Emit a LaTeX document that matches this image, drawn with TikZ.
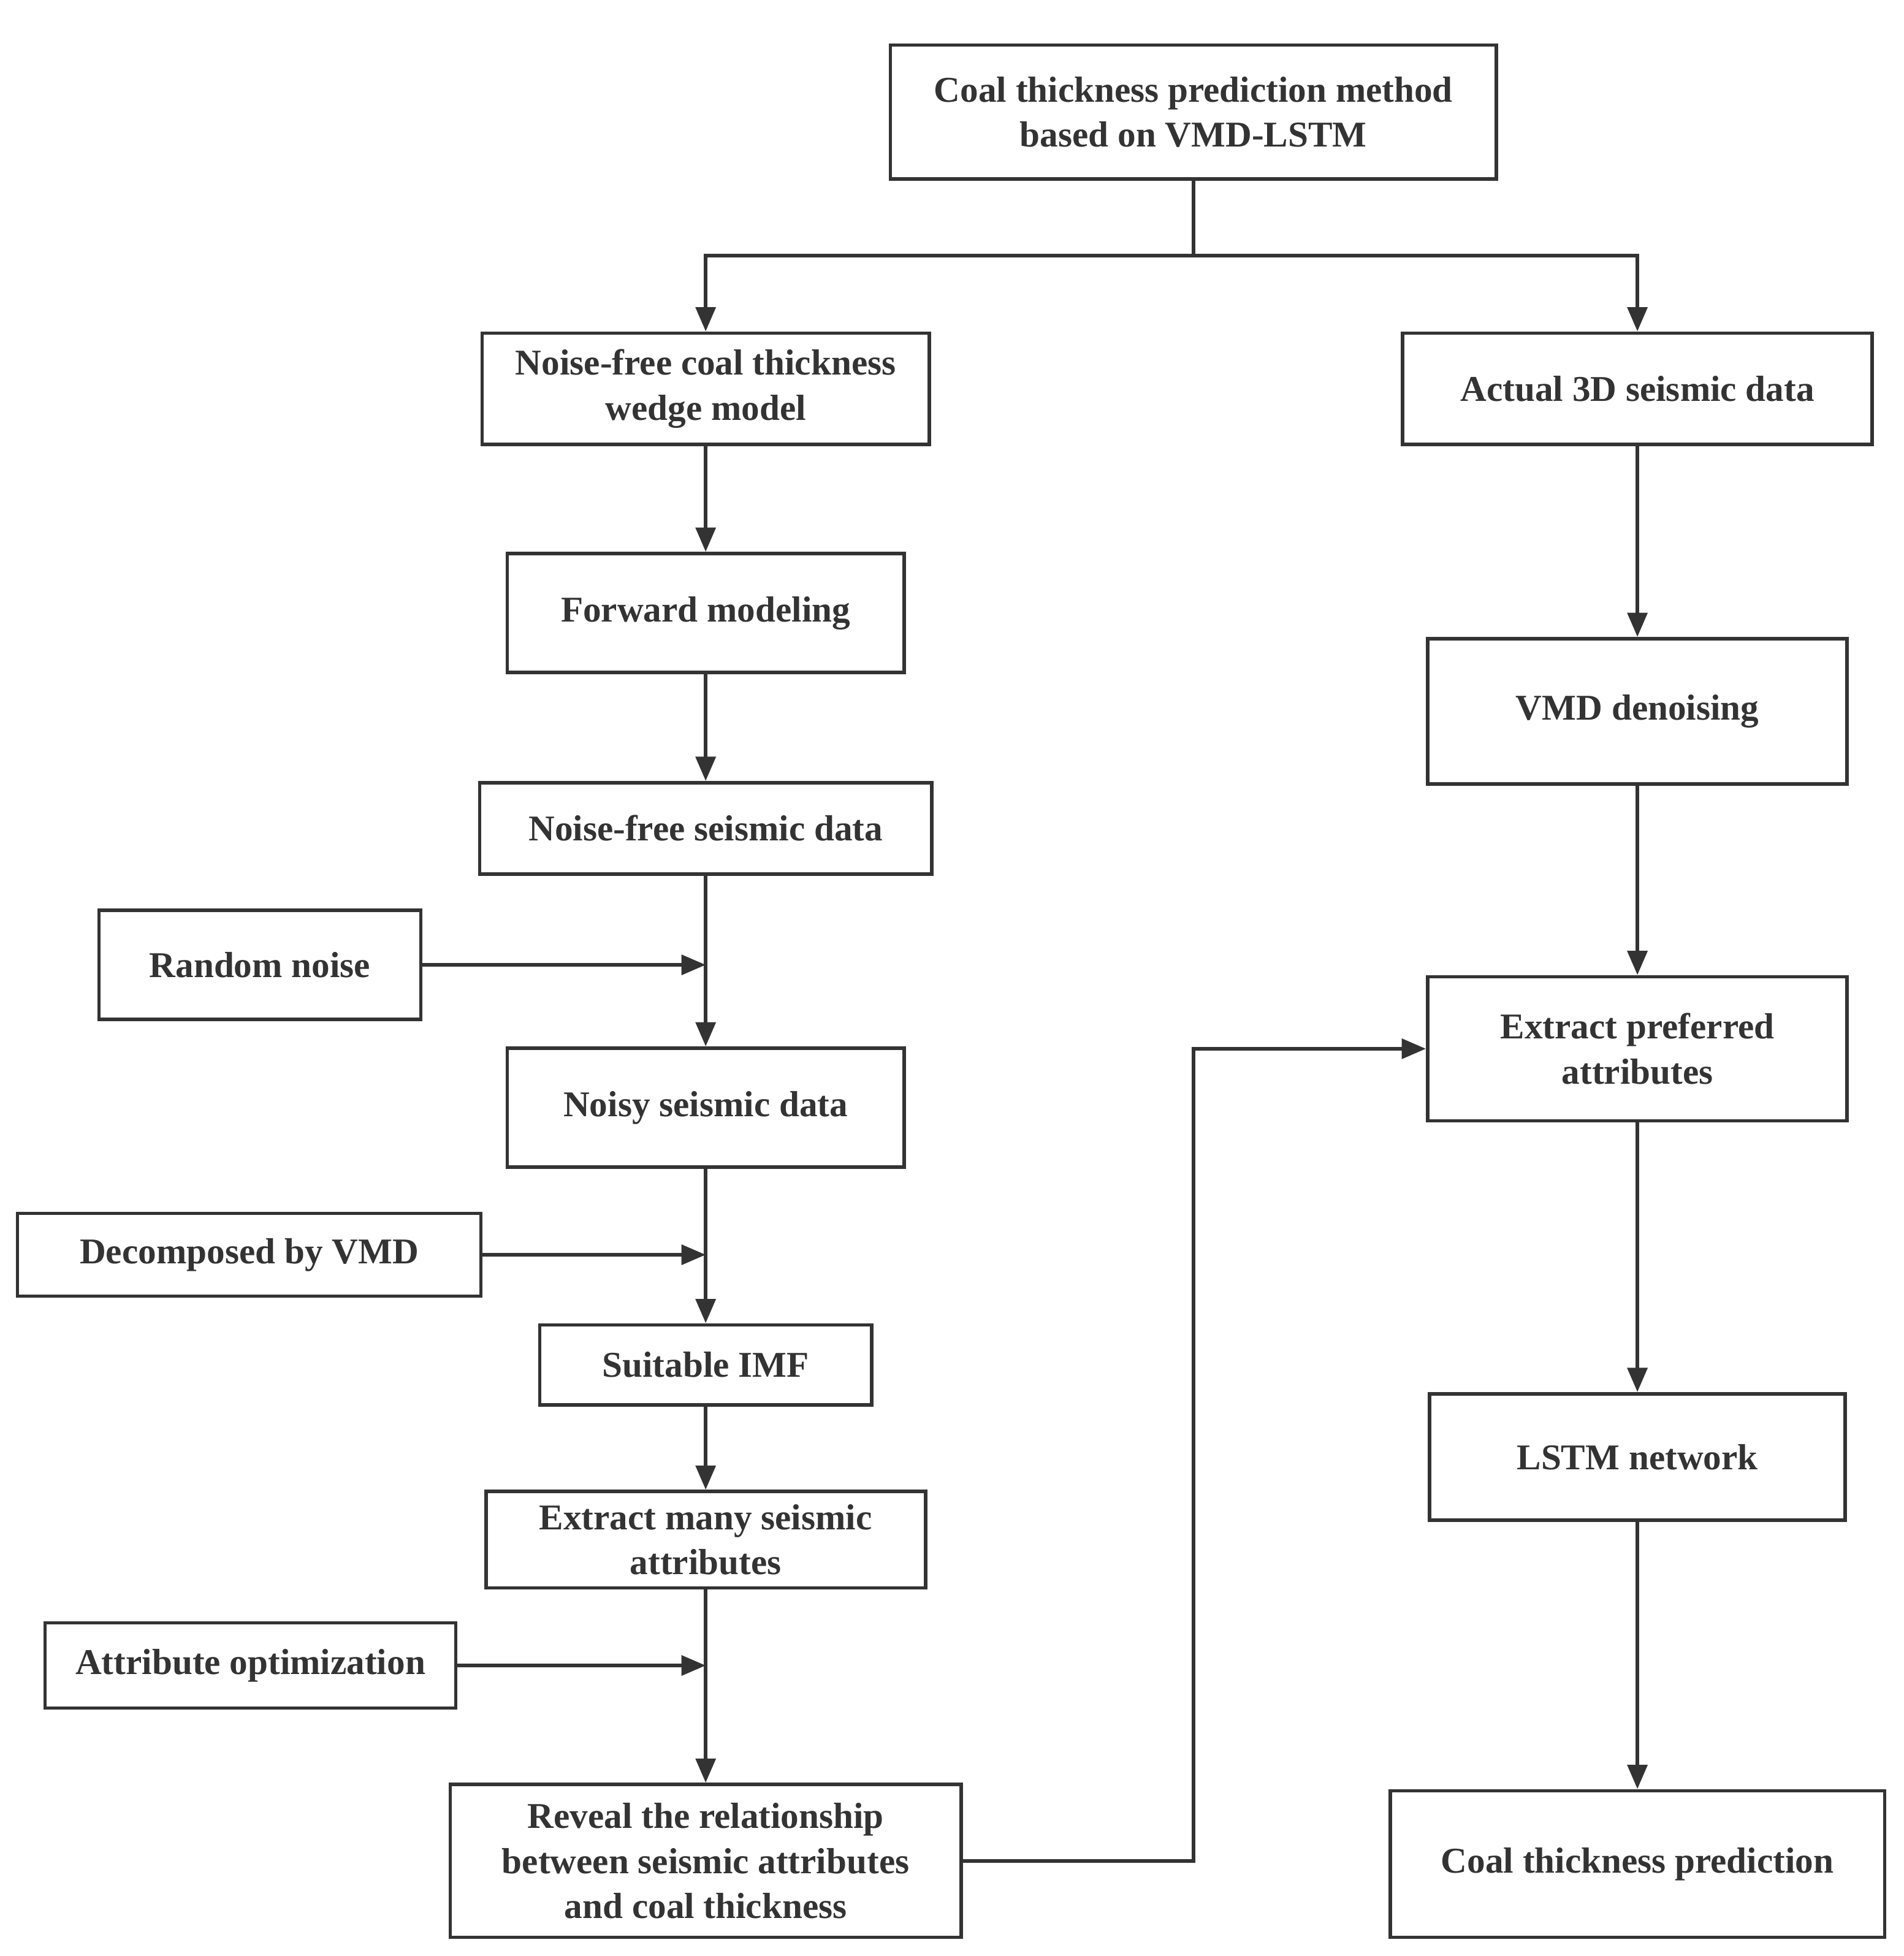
\documentclass[tikz,border=0pt]{standalone}
\usepackage{fontspec}
\setmainfont{Liberation Serif}
\usetikzlibrary{arrows.meta}
\begin{document}
\begin{tikzpicture}[x=0.02cm,y=-0.02cm,
  box/.style={draw=black!80,line width=1.6pt,align=center,font=\fontsize{16.5}{20.5}\selectfont\bfseries,text=black!80,inner sep=0pt},
  arr/.style={draw=black!80,line width=1.6pt,-{Triangle[length=11pt,width=9pt]}}]
\useasboundingbox (0,0) rectangle (1520,1562);
\newcommand{\bx}[6]{\node[box,minimum width=#4*0.02cm,minimum height=#5*0.02cm] (#1) at (#2,#3) {#6};}
\bx{top}{953}{89.5}{484}{107}{Coal thickness prediction method\\based on VMD-LSTM}
\bx{n1}{563.5}{310.5}{357}{89}{Noise-free coal thickness\\wedge model}
\bx{act}{1307.5}{310.5}{375}{89}{Actual 3D seismic data}
\bx{fwd}{563.5}{489.5}{317}{95}{Forward modeling}
\bx{nfs}{563.5}{661.5}{361}{73}{Noise-free seismic data}
\bx{rn}{207.5}{770.5}{257}{87}{Random noise}
\bx{noisy}{563.5}{884.5}{317}{95}{Noisy seismic data}
\bx{dec}{199}{1002}{370}{66}{Decomposed by VMD}
\bx{imf}{563.5}{1090}{265}{64}{Suitable IMF}
\bx{emany}{563.5}{1229.5}{351}{77}{Extract many seismic\\attributes}
\bx{aopt}{200}{1330}{328}{68}{Attribute optimization}
\bx{rev}{563.5}{1486}{408}{122}{Reveal the relationship\\between seismic attributes\\and coal thickness}
\bx{vmd}{1307.5}{568}{335}{116}{VMD denoising}
\bx{epref}{1307.5}{837.5}{335}{115}{Extract preferred\\attributes}
\bx{lstm}{1307.5}{1163.5}{332}{101}{LSTM network}
\bx{pred}{1307.5}{1488.5}{395}{117}{Coal thickness prediction}
\coordinate (s) at (953,204);
\draw[draw=black!80,line width=1.6pt] (top.south) -- (s);
\draw[arr] (s) -| (n1.north);
\draw[arr] (s) -| (act.north);
\draw[arr] (n1) -- (fwd);
\draw[arr] (fwd) -- (nfs);
\draw[arr] (nfs) -- (noisy);
\draw[arr] (noisy) -- (imf);
\draw[arr] (imf) -- (emany);
\draw[arr] (emany) -- (rev);
\draw[arr] (rn.east) -- (563.5,770.5);
\draw[arr] (dec.east) -- (563.5,1002);
\draw[arr] (aopt.east) -- (563.5,1330);
\draw[arr] (rev.east) -- (953,1486) |- (epref.west);
\draw[arr] (act) -- (vmd);
\draw[arr] (vmd) -- (epref);
\draw[arr] (epref) -- (lstm);
\draw[arr] (lstm) -- (pred);
\end{tikzpicture}
\end{document}
